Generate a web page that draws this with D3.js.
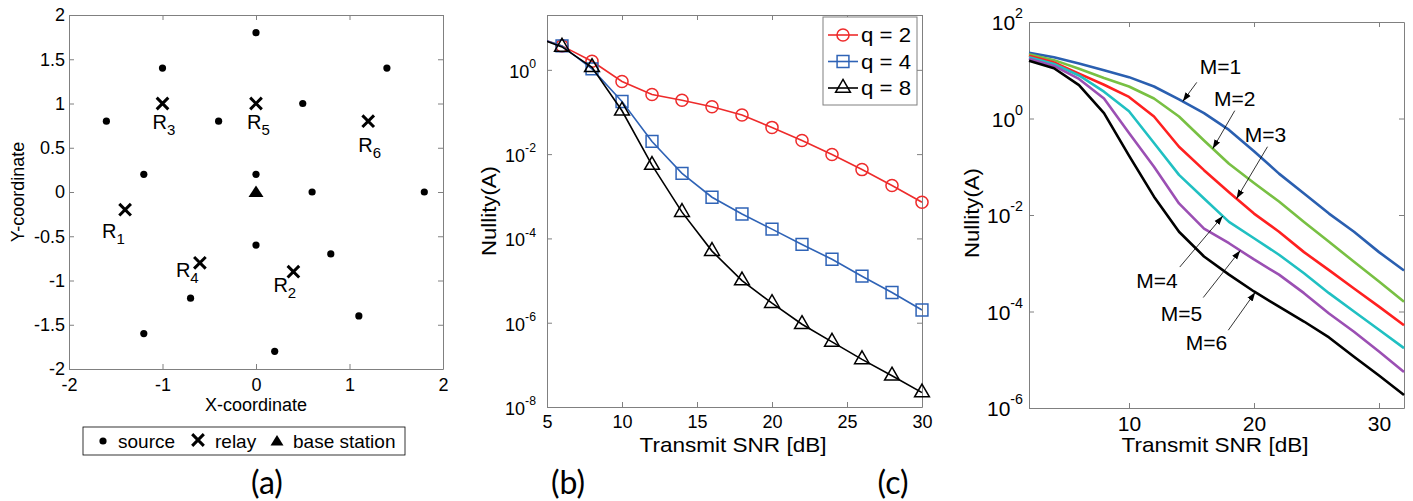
<!DOCTYPE html>
<html>
<head>
<meta charset="utf-8">
<script src="https://cdn.jsdelivr.net/npm/d3@7"></script>
<style>
  body { margin: 0; background: #fff; }
  text { font-family: "Liberation Sans", Arial, sans-serif; fill: #000; }
  .ax path, .ax line { stroke: #808080; }
  .pa .ax text { font-size: 18px; }
  .pb .ax text { font-size: 18px; }
  .pc .ax text { font-size: 21px; }
  .tag { font-family: Lato, "Open Sans", sans-serif; font-size: 32px; }
</style>
</head>
<body>
<svg id="fig" width="1413" height="501"></svg>
<script>
// ---- (a) node layout ----
const sources = [[0, 1.8], [-1, 1.4], [1.4, 1.4], [0.5, 1], [-1.6, 0.8], [-0.4, 0.8], [-1.2, 0.2], [0, 0.2],
  [0.6, 0], [1.8, 0], [0, -0.6], [0.8, -0.7], [-0.7, -1.2], [1.1, -1.4], [-1.2, -1.6], [0.2, -1.8]]
const relays = [[-1.4, -0.2], [0.4, -0.9], [-1, 1], [-0.6, -0.8], [0, 1], [1.2, 0.8]]
const relayIds = ['1', '2', '3', '4', '5', '6']
const baseStation = [0, 0]
const coordTicksX = [-2, -1, 0, 1, 2]
const coordTicksY = [-2, -1.5, -1, -0.5, 0, 0.5, 1, 1.5, 2]

// ---- (b) nullity vs SNR for q ----
const snrB = [4, 6, 8, 10, 12, 14, 16, 18, 20, 22, 24, 26, 28, 30]
const q2 = [6.4, 3.7, 1.6, 0.53, 0.26, 0.19, 0.133, 0.085, 0.043, 0.021, 0.0098, 0.0043, 0.0018, 7.2e-4]
const q4 = [6.4, 3.7, 1.05, 0.177, 0.02, 0.0035, 9.5e-4, 3.8e-4, 1.66e-4, 7.2e-5, 3.2e-5, 1.27e-5, 5.2e-6, 2.0e-6]
const q8 = [6.4, 3.5, 1.15, 0.107, 0.0055, 4.2e-4, 5e-5, 1.0e-5, 2.9e-6, 9.2e-7, 3.5e-7, 1.35e-7, 5.5e-8, 2.2e-8]
const qNames = ['q = 2', 'q = 4', 'q = 8']
const snrTicksB = [5, 10, 15, 20, 25, 30]
const nullTicksB = [1e-8, 1e-6, 1e-4, 1e-2, 1]

// ---- (c) nullity vs SNR for M ----
const snrC = [2, 4, 6, 8, 10, 12, 14, 16, 18, 20, 22, 24, 26, 28, 30, 32]
const m1 = [22.9, 18.6, 13.8, 10, 7.2, 4.6, 2.5, 1.29, 0.58, 0.21, 0.072, 0.028, 0.0107, 0.0045, 0.0017, 7.1e-4]
const m2 = [21.4, 16.2, 10.7, 6.9, 4.6, 2.6, 1.1, 0.35, 0.115, 0.046, 0.019, 0.0072, 0.0028, 0.00107, 4.2e-4, 1.6e-4]
const m3 = [20, 14.5, 8.5, 5.0, 2.8, 1.1, 0.26, 0.085, 0.0295, 0.0107, 0.0045, 0.0017, 7.2e-4, 3.0e-4, 1.26e-4, 5.2e-5]
const m4 = [18.6, 13.5, 7.8, 3.6, 1.41, 0.31, 0.068, 0.022, 0.0072, 0.0033, 0.0015, 6.2e-4, 2.4e-4, 1.0e-4, 4.2e-5, 1.74e-5]
const m5 = [17.4, 12.3, 6.6, 2.6, 0.5, 0.1, 0.0174, 0.0052, 0.0026, 0.0012, 5.8e-4, 2.4e-4, 9.1e-5, 3.8e-5, 1.48e-5, 5.6e-6]
const m6 = [15.8, 11, 4.9, 1.29, 0.17, 0.024, 0.0045, 0.00138, 5.8e-4, 2.6e-4, 1.26e-4, 6.2e-5, 2.9e-5, 1.15e-5, 4.7e-6, 1.86e-6]
const mNames = ['M=1', 'M=2', 'M=3', 'M=4', 'M=5', 'M=6']
const mArrowSnr = [14.3, 16.7, 18.6, 17.5, 18.9, 20.1]
const snrTicksC = [10, 20, 30]
const nullTicksC = [1e-6, 1e-4, 1e-2, 1, 100]

const svg = d3.select('#fig')
const plain = d => String(d)   // MATLAB style hyphen minus

function frame(g, x, y, xt, yt, fmtX, fmtY, padX, padY) {
  const [l, r] = x.range()
  const [b, t] = y.range()
  g.append('g').attr('class', 'ax').attr('transform', `translate(0,${b})`)
    .call(d3.axisBottom(x).tickValues(xt).tickSize(-5).tickSizeOuter(0).tickPadding(padX).tickFormat(fmtX))
  g.append('g').attr('class', 'ax').attr('transform', `translate(0,${t})`)
    .call(d3.axisTop(x).tickValues(xt).tickSize(-5).tickSizeOuter(0).tickFormat(''))
  g.append('g').attr('class', 'ax').attr('transform', `translate(${l},0)`)
    .call(d3.axisLeft(y).tickValues(yt).tickSize(-5).tickSizeOuter(0).tickPadding(padY).tickFormat(fmtY))
  g.append('g').attr('class', 'ax').attr('transform', `translate(${r},0)`)
    .call(d3.axisRight(y).tickValues(yt).tickSize(-5).tickSizeOuter(0).tickFormat(''))
}

function powLabels(g, y, ticks, xEnd, fs, dy) {
  ticks.forEach(v => {
    const t = g.append('text')
      .attr('x', xEnd).attr('y', y(v) + dy)
      .attr('text-anchor', 'end').attr('font-size', fs)
    t.append('tspan').text('10')
    t.append('tspan').attr('dy', -fs * 0.55).attr('font-size', fs * 0.68)
      .text(String(Math.round(Math.log10(v))))
  })
}

// ================= (a) =================
const xA = d3.scaleLinear().domain([-2, 2]).range([69, 443])
const yA = d3.scaleLinear().domain([-2, 2]).range([369, 15])
const gA = svg.append('g').attr('class', 'pa')
frame(gA, xA, yA, coordTicksX, coordTicksY, plain, plain, 9, 4)

gA.selectAll('circle.src').data(sources).enter().append('circle')
  .attr('cx', d => xA(d[0])).attr('cy', d => yA(d[1])).attr('r', 3.6).attr('fill', '#000')

const cross = d3.symbol().type(d3.symbolTimes).size(90)
gA.selectAll('path.relay').data(relays).enter().append('path')
  .attr('d', cross).attr('transform', d => `translate(${xA(d[0])},${yA(d[1])})`)
  .attr('stroke', '#000').attr('stroke-width', 3).attr('fill', 'none')

gA.append('path').attr('d', 'M0,-6.5L7.5,5L-7.5,5Z')
  .attr('transform', `translate(${xA(baseStation[0])},${yA(baseStation[1])})`).attr('fill', '#000')

const relayLabelOff = [[-23, 28], [-20, 20], [-10, 25], [-24, 14], [-9, 25], [-10, 31]]
relays.forEach((d, i) => {
  const t = gA.append('text').attr('font-size', 20)
    .attr('x', xA(d[0]) + relayLabelOff[i][0]).attr('y', yA(d[1]) + relayLabelOff[i][1])
  t.append('tspan').text('R')
  t.append('tspan').attr('dy', 6).attr('font-size', 15).text(relayIds[i])
})

gA.append('text').attr('x', 256).attr('y', 411).attr('text-anchor', 'middle')
  .attr('font-size', 18).text('X-coordinate')
gA.append('text').attr('transform', 'translate(24,192) rotate(-90)').attr('text-anchor', 'middle')
  .attr('font-size', 18).text('Y-coordinate')

// legend (a)
const legA = gA.append('g')
legA.append('rect').attr('x', 83).attr('y', 427).attr('width', 322).attr('height', 28)
  .attr('fill', '#fff').attr('stroke', '#000').attr('stroke-width', 0.8)
legA.append('circle').attr('cx', 103).attr('cy', 441).attr('r', 3.6).attr('fill', '#000')
legA.append('text').attr('x', 118).attr('y', 448).attr('font-size', 19).text('source')
legA.append('path').attr('d', cross).attr('transform', 'translate(198,440)')
  .attr('stroke', '#000').attr('stroke-width', 3).attr('fill', 'none')
legA.append('text').attr('x', 215).attr('y', 448).attr('font-size', 19).text('relay')
legA.append('path').attr('d', 'M0,-6L6.5,4.5L-6.5,4.5Z').attr('transform', 'translate(277,441)').attr('fill', '#000')
legA.append('text').attr('x', 293).attr('y', 448).attr('font-size', 19).text('base station')

svg.append('text').attr('class', 'tag').attr('x', 267).attr('y', 494).attr('text-anchor', 'middle').text('(a)')

// ================= (b) =================
const xB = d3.scaleLinear().domain([5, 30]).range([547, 922])
const yB = d3.scaleLog().domain([1e-8, 20]).range([407, 15])
const gB = svg.append('g').attr('class', 'pb')
frame(gB, xB, yB, snrTicksB, nullTicksB, plain, () => '', 8, 4)
powLabels(gB, yB, nullTicksB, 536, 18, 8)

svg.append('clipPath').attr('id', 'clipB').append('rect')
  .attr('x', 547).attr('y', 15).attr('width', 375).attr('height', 392)

const seriesB = [q2, q4, q8]
const colorB = ['#ee2b2b', '#2f63b6', '#000']
const symB = [d3.symbolCircle, d3.symbolSquare, d3.symbolTriangle]
const symSizeB = [115, 140, 95]
const lineB = d3.line().x((d, i) => xB(snrB[i])).y(d => yB(d))

seriesB.forEach((s, k) => {
  gB.append('path').datum(s).attr('d', lineB).attr('clip-path', 'url(#clipB)')
    .attr('fill', 'none').attr('stroke', colorB[k]).attr('stroke-width', 1.6)
  gB.selectAll(null).data(s.map((v, i) => [snrB[i], v]).filter(d => d[0] >= 5)).enter().append('path')
    .attr('d', d3.symbol().type(symB[k]).size(symSizeB[k]))
    .attr('transform', d => `translate(${xB(d[0])},${yB(d[1])})`)
    .attr('fill', 'none').attr('stroke', colorB[k]).attr('stroke-width', 1.5)
})

// legend (b)
const legB = gB.append('g')
legB.append('rect').attr('x', 823).attr('y', 17).attr('width', 94).attr('height', 88)
  .attr('fill', '#fff').attr('stroke', '#808080').attr('stroke-width', 1)
qNames.forEach((n, k) => {
  const cy = 35 + k * 26.5
  legB.append('line').attr('x1', 828).attr('x2', 858).attr('y1', cy).attr('y2', cy)
    .attr('stroke', colorB[k]).attr('stroke-width', 1.6)
  legB.append('path').attr('d', d3.symbol().type(symB[k]).size(symSizeB[k]))
    .attr('transform', `translate(843,${cy})`).attr('fill', 'none').attr('stroke', colorB[k]).attr('stroke-width', 1.5)
  legB.append('text').attr('x', 861).attr('y', cy + 7).attr('font-size', 21)
    .attr('textLength', 50).attr('lengthAdjust', 'spacingAndGlyphs').text(n)
})

gB.append('text').attr('x', 733).attr('y', 452).attr('text-anchor', 'middle').attr('font-size', 21)
  .attr('textLength', 187).attr('lengthAdjust', 'spacingAndGlyphs').text('Transmit SNR [dB]')
gB.append('text').attr('transform', 'translate(496,211) rotate(-90)').attr('text-anchor', 'middle')
  .attr('font-size', 21).attr('textLength', 90).attr('lengthAdjust', 'spacingAndGlyphs').text('Nullity(A)')

svg.append('text').attr('class', 'tag').attr('x', 568).attr('y', 494).attr('text-anchor', 'middle').text('(b)')

// ================= (c) =================
const xC = d3.scaleLinear().domain([2, 32]).range([1029, 1404])
const yC = d3.scaleLog().domain([1e-6, 100]).range([408, 22])
const gC = svg.append('g').attr('class', 'pc')
frame(gC, xC, yC, snrTicksC, nullTicksC, plain, () => '', 8, 4)
powLabels(gC, yC, nullTicksC, 1023, 21, 8)

const seriesC = [m1, m2, m3, m4, m5, m6]
const colorC = ['#2a5fb0', '#78c043', '#ff2020', '#20c0c2', '#9b4fb3', '#000']
const lineC = d3.line().x((d, i) => xC(snrC[i])).y(d => yC(d))
seriesC.forEach((s, k) => {
  gC.append('path').datum(s).attr('d', lineC)
    .attr('fill', 'none').attr('stroke', colorC[k]).attr('stroke-width', 2.6).attr('stroke-linejoin', 'round')
})

svg.append('defs').append('marker').attr('id', 'ah')
  .attr('viewBox', '0 0 10 10').attr('refX', 10).attr('refY', 5)
  .attr('markerWidth', 9).attr('markerHeight', 9).attr('markerUnits', 'userSpaceOnUse').attr('orient', 'auto')
  .append('path').attr('d', 'M0,1.5L10,5L0,8.5Z').attr('fill', '#000')

function logAt(s, xs, xv) {
  const i = Math.min(d3.bisectRight(xs, xv), xs.length - 1)
  const f = (xv - xs[i - 1]) / (xs[i] - xs[i - 1])
  return Math.pow(10, Math.log10(s[i - 1]) + f * (Math.log10(s[i]) - Math.log10(s[i - 1])))
}

const tailOff = [[14, -19], [22, -38], [31, -52], [-43, 51], [-37, 47], [-27, 38]]
const textOff = [[3, -8, 'start'], [0, -5, 'middle'], [-2, -5, 'middle'], [-2, 21, 'end'], [-1, 23, 'end'], [-1, 20, 'end']]
mNames.forEach((n, k) => {
  const tx = xC(mArrowSnr[k])
  const ty = yC(logAt(seriesC[k], snrC, mArrowSnr[k]))
  const ax = tx + tailOff[k][0]
  const ay = ty + tailOff[k][1]
  gC.append('line').attr('x1', ax).attr('y1', ay).attr('x2', tx).attr('y2', ty)
    .attr('stroke', '#000').attr('stroke-width', 0.8).attr('marker-end', 'url(#ah)')
  gC.append('text').attr('x', ax + textOff[k][0]).attr('y', ay + textOff[k][1])
    .attr('text-anchor', textOff[k][2]).attr('font-size', 21).text(n)
})

gC.append('text').attr('x', 1215).attr('y', 452).attr('text-anchor', 'middle').attr('font-size', 21)
  .attr('textLength', 187).attr('lengthAdjust', 'spacingAndGlyphs').text('Transmit SNR [dB]')
gC.append('text').attr('transform', 'translate(979,213) rotate(-90)').attr('text-anchor', 'middle')
  .attr('font-size', 21).attr('textLength', 90).attr('lengthAdjust', 'spacingAndGlyphs').text('Nullity(A)')

svg.append('text').attr('class', 'tag').attr('x', 893).attr('y', 494).attr('text-anchor', 'middle').text('(c)')
</script>
</body>
</html>
